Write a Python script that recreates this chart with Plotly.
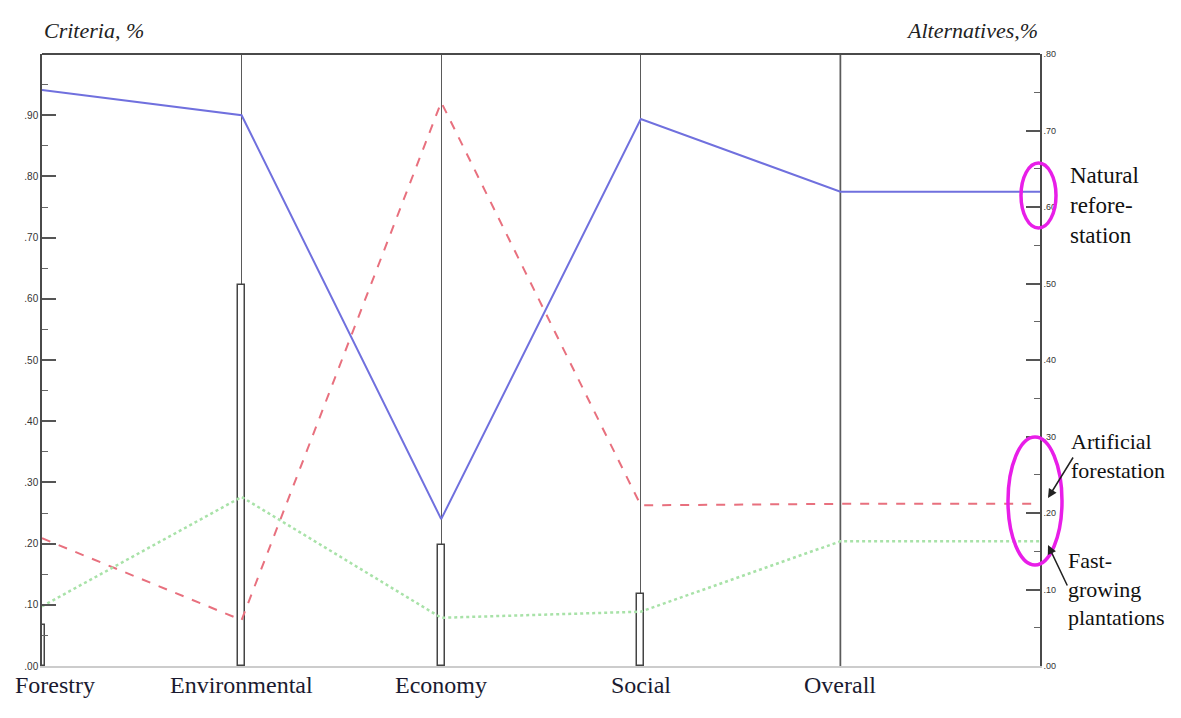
import plotly.graph_objects as go

# ---- data ----
criteria = ["Forestry", "Environmental", "Economy", "Social", "Overall"]
criteria_weights = [0.067, 0.622, 0.197, 0.117]          # left axis (Criteria, %)
natural_reforestation = [0.753, 0.720, 0.192, 0.715, 0.620]   # right axis (Alternatives, %)
artificial_forestation = [0.167, 0.060, 0.737, 0.210, 0.212]
fast_growing = [0.078, 0.221, 0.063, 0.071, 0.163]
left_ticks = [0.0, 0.1, 0.2, 0.3, 0.4, 0.5, 0.6, 0.7, 0.8, 0.9]
right_ticks = [0.0, 0.1, 0.2, 0.3, 0.4, 0.5, 0.6, 0.7, 0.8]

def fmt(v):
    return "." + f"{int(round(v * 100)):02d}"

pos = list(range(len(criteria)))
right_edge = len(criteria)  # right axis location
line_x = pos + [right_edge]

W, H = 1165, 702
L, R, T, B = 34, 133, 46, 44
plot_w = W - L - R
plot_h = H - T - B
OFF = 8  # page body margin

def px(xp):
    return (xp - OFF - L) / plot_w

def py(yp):
    return (H - B - (yp - OFF)) / plot_h

fig = go.Figure()

fig.add_trace(go.Bar(
    x=pos[:len(criteria_weights)], y=criteria_weights, width=0.034,
    marker=dict(color="white", line=dict(color="#444", width=1.5)),
    yaxis="y", showlegend=False, hoverinfo="skip"))

series = [
    (natural_reforestation, "#7070de", "solid", 2),
    (artificial_forestation, "#e8707e", "dash", 2),
    (fast_growing, "#a8e2a8", "dot", 2.5),
]
for vals, col, dash, w in series:
    fig.add_trace(go.Scatter(
        x=line_x, y=vals + [vals[-1]], mode="lines",
        line=dict(color=col, dash=dash, width=w),
        yaxis="y2", showlegend=False, cliponaxis=False, hoverinfo="skip"))

fig.update_layout(
    width=W, height=H,
    margin=dict(l=L, r=R, t=T, b=B),
    paper_bgcolor="white", plot_bgcolor="white",
    bargap=0,
    xaxis=dict(range=[0, right_edge], tickvals=pos, showticklabels=False,
               showgrid=True, gridcolor="#5a5a5a", gridwidth=1.3,
               showline=True, linecolor="#cccccc", linewidth=1.5,
               zeroline=False, ticks=""),
    yaxis=dict(range=[0, 1.0], tickvals=left_ticks,
               ticktext=[fmt(v) for v in left_ticks],
               ticks="inside", ticklen=14, tickwidth=1.5, tickcolor="#555",
               showline=True, linecolor="#4a4a4a", linewidth=1.5,
               showgrid=False, zeroline=False,
               tickfont=dict(family="Liberation Sans", size=10, color="#333"),
               minor=dict(tickvals=[v + 0.05 for v in left_ticks], ticks="inside",
                          ticklen=6, tickcolor="#666", tickwidth=1.2, showgrid=False)),
    yaxis2=dict(range=[0, 0.8], overlaying="y", side="right", tickvals=right_ticks,
                ticktext=[fmt(v) for v in right_ticks],
                ticks="inside", ticklen=14, tickwidth=1.5, tickcolor="#555",
                showline=True, linecolor="#4a4a4a", linewidth=1.5,
                showgrid=False, zeroline=False,
                tickfont=dict(family="Liberation Sans", size=9, color="#333"),
                minor=dict(tickvals=[v + 0.05 for v in right_ticks[:-1]], ticks="inside",
                           ticklen=6, tickcolor="#666", tickwidth=1.2, showgrid=False)),
)

# top border
fig.add_shape(type="line", xref="paper", yref="paper", x0=0, x1=1, y0=1, y1=1,
              line=dict(color="#4a4a4a", width=2))
# darker overall line
fig.add_shape(type="line", xref="x", yref="paper", x0=pos[-1], x1=pos[-1], y0=0, y1=1,
              line=dict(color="#333", width=1.6), layer="below")

serif = "Liberation Serif"
# category labels
for i, name in enumerate(criteria):
    if i == 0:
        fig.add_annotation(x=i, y=0, xref="x", yref="paper", text=name, showarrow=False,
                           xanchor="left", yanchor="top", xshift=-29, yshift=-4,
                           font=dict(family=serif, size=24, color="#1a1a30"))
    else:
        fig.add_annotation(x=i, y=0, xref="x", yref="paper", text=name, showarrow=False,
                           xanchor="center", yanchor="top", yshift=-4,
                           font=dict(family=serif, size=24, color="#1a1a30"))

# axis titles
fig.add_annotation(x=0, y=py(31), xref="paper", yref="paper", text="<i>Criteria, %</i>",
                   showarrow=False, xanchor="left", yanchor="middle",
                   font=dict(family=serif, size=22, color="#222"))
fig.add_annotation(x=1, y=py(31), xref="paper", yref="paper", text="<i>Alternatives,%</i>",
                   showarrow=False, xanchor="right", yanchor="middle",
                   font=dict(family=serif, size=22, color="#222"))

# ellipses
fig.add_shape(type="circle", xref="paper", yref="paper",
              x0=px(1021), x1=px(1056), y0=py(228), y1=py(163),
              line=dict(color="#e81ee8", width=3.5))
fig.add_shape(type="circle", xref="paper", yref="paper",
              x0=px(1008), x1=px(1062), y0=py(565), y1=py(437),
              line=dict(color="#e81ee8", width=3.5))

# right-side labels
fig.add_annotation(x=px(1068), y=py(205), xref="paper", yref="paper",
                   text="Natural<br>refore-<br>station", showarrow=False, align="left",
                   xanchor="left", yanchor="middle",
                   font=dict(family=serif, size=23, color="#111"))
fig.add_annotation(x=px(1069), y=py(456), xref="paper", yref="paper",
                   text="Artificial<br>forestation", showarrow=False, align="left",
                   xanchor="left", yanchor="middle",
                   font=dict(family=serif, size=22, color="#111"))
fig.add_annotation(x=px(1066), y=py(589), xref="paper", yref="paper",
                   text="Fast-<br>growing<br>plantations", showarrow=False, align="left",
                   xanchor="left", yanchor="middle",
                   font=dict(family=serif, size=22, color="#111"))
# arrows
fig.add_annotation(x=px(1048), y=py(498), xref="paper", yref="paper", text="",
                   showarrow=True, ax=26, ay=-42, arrowhead=2, arrowsize=1.2,
                   arrowwidth=1.5, arrowcolor="#222")
fig.add_annotation(x=px(1048), y=py(545), xref="paper", yref="paper", text="",
                   showarrow=True, ax=20, ay=42, arrowhead=2, arrowsize=1.2,
                   arrowwidth=1.5, arrowcolor="#222")

fig.write_html("out.html")
